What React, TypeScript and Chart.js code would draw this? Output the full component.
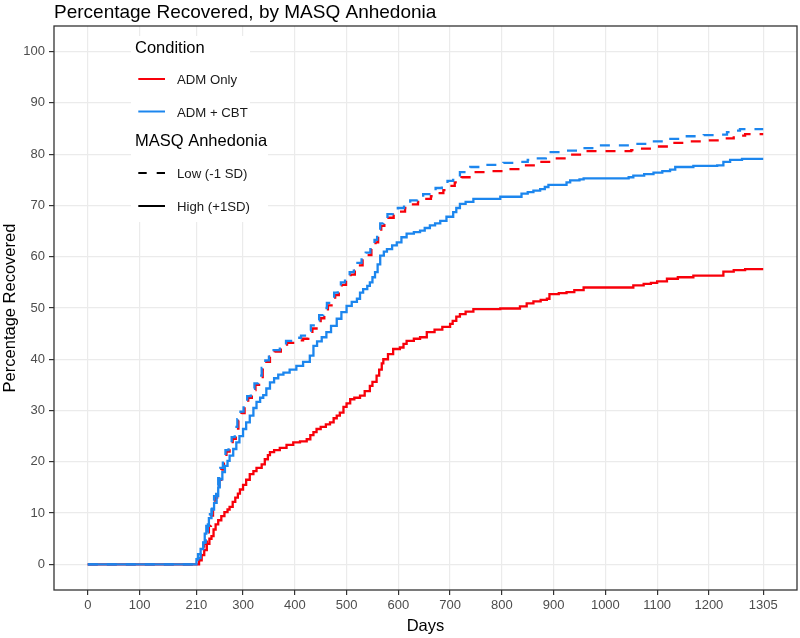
import React, { useEffect, useRef } from "react";
import { Chart, registerables } from "chart.js";

Chart.register(...registerables);

const xTicks = [0, 100, 210, 300, 400, 500, 600, 700, 800, 900, 1000, 1100, 1200, 1305];
const yTicks = [0, 10, 20, 30, 40, 50, 60, 70, 80, 90, 100];

const chartTitle = "Percentage Recovered, by MASQ Anhedonia";
const xTitle = "Days";
const yTitle = "Percentage Recovered";
const conditionTitle = "Condition";
const conditionLabels = ["ADM Only", "ADM + CBT"];
const masqTitle = "MASQ Anhedonia";
const masqLabels = ["Low (-1 SD)", "High (+1SD)"];

// ADM Only, Low (-1 SD)  (red dashed)
const admLowDays = [0, 210, 215, 219, 225, 230, 234, 238, 242, 246, 250, 254, 258, 263, 268, 274, 280, 286, 291, 297, 303, 310, 317, 324, 331, 338, 345, 352, 361, 373, 385, 401, 416, 426, 434, 442, 450, 457, 464, 471, 478, 485, 491, 499, 508, 516, 523, 531, 539, 548, 556, 561, 567, 573, 581, 591, 601, 613, 625, 638, 651, 663, 675, 687, 698, 709, 722, 745, 777, 810, 838, 867, 897, 925, 958, 1050, 1061, 1093, 1125, 1158, 1196, 1222, 1248, 1270, 1305];
const admLowPct = [0, 0, 1, 2.5, 4, 6, 7.5, 9.5, 11, 13, 15, 16.5, 18.5, 20.5, 22, 23, 24.5, 26.5, 28, 29.5, 31, 32.5, 34, 35, 36.5, 38, 39.5, 40.5, 41.5, 42.5, 43.2, 43.7, 44, 45, 46, 47, 48, 49.5, 50.5, 51.5, 52.5, 53.5, 54.5, 55.5, 56.5, 57.3, 58.3, 59.3, 60.3, 61.5, 62.8, 64.5, 66, 67, 67.6, 68.2, 68.8, 69.5, 70.2, 70.7, 71.3, 71.8, 72.4, 73, 73.8, 74.5, 75.5, 76.5, 76.7, 77.1, 77.8, 78.5, 79.2, 79.9, 80.6, 80.8, 81.1, 81.5, 82.2, 82.5, 82.7, 83.1, 83.6, 83.9, 83.9];

// ADM + CBT, Low (-1 SD)  (blue dashed)
const cbtLowDays = [0, 209, 213, 218, 223, 228, 232, 236, 240, 244, 248, 252, 256, 261, 266, 272, 278, 284, 289, 295, 301, 308, 315, 322, 329, 336, 343, 350, 359, 371, 383, 398, 412, 423, 431, 439, 447, 455, 462, 469, 476, 483, 489, 497, 506, 514, 521, 529, 537, 546, 554, 559, 565, 571, 579, 589, 599, 611, 623, 636, 648, 660, 672, 684, 695, 706, 719, 739, 761, 803, 835, 850, 867, 885, 890, 925, 951, 977, 1054, 1087, 1119, 1151, 1190, 1222, 1235, 1241, 1260, 1305];
const cbtLowPct = [0, 0, 1.2, 2.8, 4.3, 6.3, 7.8, 9.8, 11.3, 13.3, 15.3, 16.8, 18.8, 20.8, 22.3, 23.3, 24.8, 26.8, 28.3, 29.8, 31.3, 32.8, 34.3, 35.3, 36.8, 38.3, 39.8, 40.8, 41.8, 42.8, 43.6, 44.2, 44.6, 45.6, 46.6, 47.6, 48.6, 50, 51, 52, 53, 54, 55, 56, 57, 57.8, 58.8, 59.8, 60.8, 62, 63.3, 65, 66.5, 67.5, 68.3, 69, 69.5, 70.2, 71, 71.5, 72.2, 72.8, 73.4, 74, 74.8, 75.6, 76.5, 77.5, 77.9, 78.3, 78.5, 78.9, 79.2, 79.8, 80.4, 80.7, 81.2, 81.7, 82, 82.5, 83, 83.5, 83.7, 83.8, 84.3, 84.6, 84.9, 84.9];

// ADM Only, High (+1 SD)  (red solid)
const admHighDays = [0, 212, 215, 220, 225, 230, 235, 239, 243, 247, 252, 258, 264, 270, 274, 280, 285, 290, 294, 300, 306, 313, 320, 326, 336, 342, 348, 352, 360, 371, 384, 397, 410, 423, 430, 436, 442, 450, 460, 468, 475, 481, 487, 494, 500, 507, 515, 526, 535, 545, 550, 558, 563, 568, 571, 580, 590, 603, 610, 616, 630, 642, 655, 670, 685, 700, 705, 712, 719, 730, 745, 797, 835, 848, 861, 875, 887, 892, 910, 925, 940, 958, 1042, 1054, 1074, 1088, 1100, 1119, 1140, 1170, 1219, 1228, 1248, 1270, 1305];
const admHighPct = [0, 0, 0.8, 1.8, 2.8, 4, 5, 5.5, 6.8, 7.8, 8.6, 9.4, 10.2, 10.7, 11.2, 12.2, 13, 13.8, 14.6, 15.5, 16.5, 17.6, 18.2, 18.8, 19.5, 20.5, 21.3, 21.9, 22.3, 22.7, 23.3, 23.8, 24, 24.4, 25.2, 25.8, 26.4, 26.8, 27.3, 27.7, 28.5, 29, 29.6, 30.7, 31.4, 32.2, 32.5, 32.9, 33.8, 34.8, 35.6, 36.8, 38, 39.2, 40, 41, 42, 42.3, 43, 43.6, 44, 44.3, 45.3, 45.8, 46.3, 46.9, 47.5, 48.3, 48.8, 49.3, 49.8, 49.9, 50.3, 50.9, 51.3, 51.6, 51.8, 52.7, 52.9, 53.1, 53.5, 54, 54, 54.4, 54.7, 54.9, 55.2, 55.7, 56, 56.3, 56.3, 57.1, 57.4, 57.6, 57.6];

// ADM + CBT, High (+1 SD)  (blue solid)
const cbtHighDays = [0, 208, 210, 213, 218, 223, 226, 229, 234, 239, 244, 249, 252, 255, 260, 265, 270, 274, 281, 287, 293, 300, 306, 313, 320, 326, 333, 339, 345, 352, 360, 368, 378, 390, 403, 416, 429, 436, 443, 452, 461, 470, 481, 490, 500, 510, 520, 526, 532, 540, 545, 550, 555, 560, 565, 572, 578, 588, 597, 606, 616, 630, 642, 651, 661, 671, 681, 693, 706, 712, 719, 730, 745, 797, 838, 850, 861, 874, 883, 890, 925, 932, 950, 958, 1045, 1054, 1075, 1093, 1110, 1125, 1135, 1170, 1216, 1228, 1241, 1264, 1305];
const cbtHighPct = [0, 0, 1, 2, 3, 4.2, 6, 7.5, 9, 10.7, 12, 13.3, 15, 16.6, 18, 19.2, 20.2, 21.2, 22.5, 23.8, 25, 26.4, 27.7, 29, 30.5, 31.7, 32.5, 33, 34.3, 35.5, 36.3, 37, 37.4, 38, 38.7, 39.5, 40.7, 42.6, 43.5, 44.3, 45.3, 46.5, 47.9, 49.2, 50.4, 51.2, 51.8, 53, 53.7, 54.3, 55, 56, 57, 58.5, 60.2, 61, 61.5, 62.2, 62.8, 63.8, 64.5, 64.8, 65.1, 65.6, 66.1, 66.5, 67, 67.8, 68.7, 69.5, 70.3, 70.7, 71.3, 71.7, 72.3, 72.6, 72.9, 73.2, 73.6, 74, 74.5, 74.9, 75.1, 75.3, 75.5, 75.8, 76.1, 76.4, 76.7, 77, 77.5, 77.7, 77.8, 78.5, 78.9, 79.1, 79.1];

const RED = "#F8000A";
const BLUE = "#1C86EE";
const FONT = "'Liberation Sans', Arial, sans-serif";

const toPoints = (days: number[], pct: number[]) => days.map((d, i) => ({ x: d, y: pct[i] }));

const decorPlugin = {
  id: "decor",
  afterDatasetsDraw(chart: any) {
    const { ctx, chartArea } = chart;
    const { left, right, top, bottom } = chartArea;
    ctx.save();
    // panel border
    ctx.strokeStyle = "#333333";
    ctx.lineWidth = 1.3;
    ctx.strokeRect(left, top, right - left, bottom - top);
    ctx.restore();
  },
  afterDraw(chart: any) {
    const { ctx, chartArea } = chart;
    const { left, right, top, bottom } = chartArea;
    ctx.save();
    // title
    ctx.fillStyle = "#000";
    ctx.font = `19px ${FONT}`;
    ctx.textAlign = "left";
    ctx.textBaseline = "alphabetic";
    ctx.fillText(chartTitle, left, 18);
    // x title
    ctx.font = `16.5px ${FONT}`;
    ctx.textAlign = "center";
    ctx.fillText(xTitle, (left + right) / 2, 631);
    // y title
    ctx.save();
    ctx.translate(14.5, (top + bottom) / 2);
    ctx.rotate(-Math.PI / 2);
    ctx.fillText(yTitle, 0, 0);
    ctx.restore();

    // legend boxes
    ctx.fillStyle = "#FFFFFF";
    ctx.fillRect(131, 36, 119, 92);
    ctx.fillRect(131, 127, 137, 95);

    ctx.fillStyle = "#000";
    ctx.textAlign = "left";
    ctx.font = `16.5px ${FONT}`;
    ctx.textBaseline = "alphabetic";
    ctx.fillText(conditionTitle, 135, 52.5);
    ctx.fillText(masqTitle, 135, 145.5);

    const keyX0 = 138.3;
    const keyX1 = 165;
    const drawKey = (y: number, color: string, dash: number[]) => {
      ctx.save();
      ctx.strokeStyle = color;
      ctx.lineWidth = 2;
      ctx.setLineDash(dash);
      ctx.beginPath();
      ctx.moveTo(keyX0, y);
      ctx.lineTo(keyX1, y);
      ctx.stroke();
      ctx.restore();
    };
    drawKey(79, RED, []);
    drawKey(111.5, BLUE, []);
    drawKey(173, "#000", [8.4, 10]);
    drawKey(206, "#000", []);

    ctx.font = `13.2px ${FONT}`;
    ctx.textBaseline = "middle";
    ctx.fillStyle = "#1a1a1a";
    ctx.fillText(conditionLabels[0], 177, 80.5);
    ctx.fillText(conditionLabels[1], 177, 113);
    ctx.fillText(masqLabels[0], 177, 174);
    ctx.fillText(masqLabels[1], 177, 207);
    ctx.restore();
  },
};

export default function App() {
  const canvasRef = useRef<HTMLCanvasElement | null>(null);

  useEffect(() => {
    document.body.style.margin = "0";
    const canvas = canvasRef.current;
    if (!canvas) return;
    const gridOpts = {
      color: "#EBEBEB",
      lineWidth: 1.2,
      tickLength: 5,
      tickColor: "#333333",
      tickWidth: 1.2,
      drawOnChartArea: true,
    };
    const tickFont = { family: FONT, size: 13 };
    const chart = new Chart(canvas, {
      type: "line",
      data: {
        datasets: [
          {
            label: "ADM + CBT, High",
            data: toPoints(cbtHighDays, cbtHighPct),
            borderColor: BLUE,
            borderWidth: 2.3,
            stepped: true,
            pointRadius: 0,
            fill: false,
          },
          {
            label: "ADM + CBT, Low",
            data: toPoints(cbtLowDays, cbtLowPct),
            borderColor: BLUE,
            borderWidth: 2.3,
            borderDash: [10, 9],
            stepped: true,
            pointRadius: 0,
            fill: false,
          },
          {
            label: "ADM Only, High",
            data: toPoints(admHighDays, admHighPct),
            borderColor: RED,
            borderWidth: 2.3,
            stepped: true,
            pointRadius: 0,
            fill: false,
          },
          {
            label: "ADM Only, Low",
            data: toPoints(admLowDays, admLowPct),
            borderColor: RED,
            borderWidth: 2.3,
            borderDash: [10, 9],
            stepped: true,
            pointRadius: 0,
            fill: false,
          },
        ],
      },
      options: {
        responsive: false,
        animation: false,
        devicePixelRatio: 1,
        layout: { padding: { top: 26, right: 3, left: 0, bottom: 0 } },
        plugins: {
          legend: { display: false },
          title: { display: false },
          tooltip: { enabled: false },
        },
        elements: { point: { radius: 0 }, line: { tension: 0 } },
        scales: {
          x: {
            type: "linear",
            min: -65.25,
            max: 1370.25,
            afterBuildTicks: (scale: any) => {
              scale.ticks = xTicks.map((v) => ({ value: v }));
            },
            afterFit: (scale: any) => {
              scale.height = 48;
            },
            grid: gridOpts,
            border: { display: false },
            ticks: {
              color: "#4D4D4D",
              font: tickFont,
              padding: 3,
              maxRotation: 0,
              autoSkip: false,
              callback: (v: any) => String(v),
            },
          },
          y: {
            type: "linear",
            min: -5,
            max: 105,
            afterBuildTicks: (scale: any) => {
              scale.ticks = yTicks.map((v) => ({ value: v }));
            },
            afterFit: (scale: any) => {
              scale.width = 54;
            },
            grid: gridOpts,
            border: { display: false },
            ticks: {
              color: "#4D4D4D",
              font: tickFont,
              padding: 4,
              autoSkip: false,
              callback: (v: any) => String(v),
            },
          },
        },
      } as any,
      plugins: [decorPlugin],
    });
    return () => chart.destroy();
  }, []);

  return (
    <div style={{ width: 800, height: 638, background: "#fff" }}>
      <canvas ref={canvasRef} width={800} height={638} style={{ display: "block" }} />
    </div>
  );
}
